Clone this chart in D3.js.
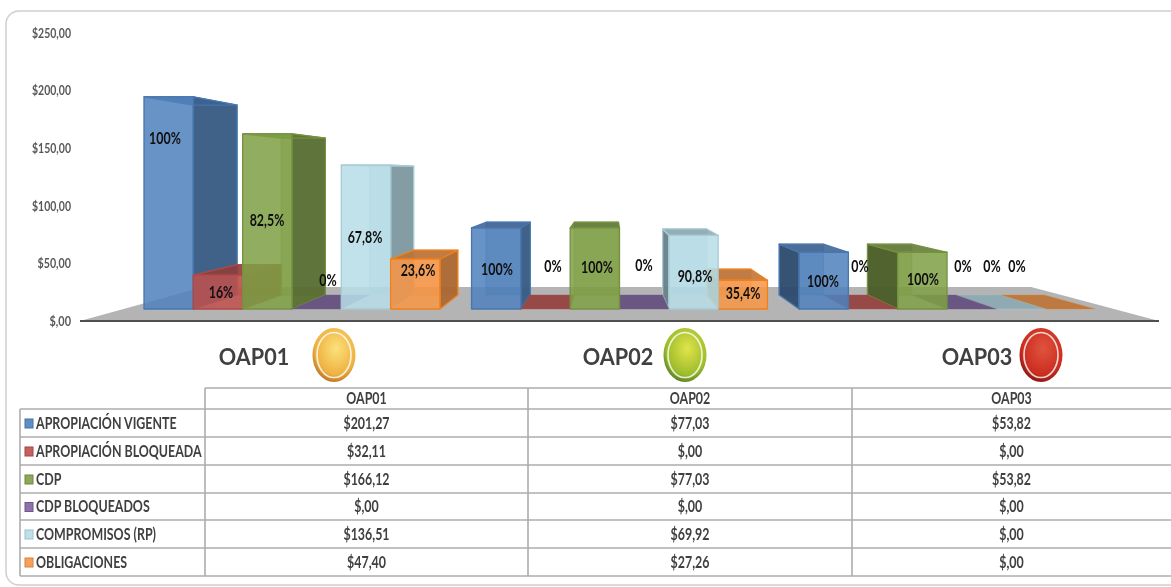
<!DOCTYPE html>
<html>
    <head>
        <meta charset="utf-8">
        <style>
            html, body { margin: 0; padding: 0; background: white; overflow: hidden; }
            text { font-family: Lato, "Open Sans", sans-serif; }
            .grid_line { stroke: #adadad; stroke-width: 1.6; fill: none; }
        </style>
    </head>
    <body>
        <div id="plateau"></div>
        <script src="https://cdn.jsdelivr.net/npm/d3@7"></script>
        <script>

//////////////////// data ////////////////////
const categories = ['OAP01', 'OAP02', 'OAP03'];
const seriesNames = ['APROPIACIÓN VIGENTE', 'APROPIACIÓN BLOQUEADA', 'CDP', 'CDP BLOQUEADOS', 'COMPROMISOS (RP)', 'OBLIGACIONES'];
const seriesColors = ['#4f81bd', '#c0504d', '#7f9f45', '#8064a2', '#b7dde8', '#f79646'];

const apropiacionVigente = [201.27, 77.03, 53.82];
const apropiacionBloqueada = [32.11, 0, 0];
const cdp = [166.12, 77.03, 53.82];
const cdpBloqueados = [0, 0, 0];
const compromisos = [136.51, 69.92, 0];
const obligaciones = [47.40, 27.26, 0];
const seriesValues = [apropiacionVigente, apropiacionBloqueada, cdp, cdpBloqueados, compromisos, obligaciones];

const pctLabels = [
    ['100%', '16%', '82,5%', '0%', '67,8%', '23,6%'],
    ['100%', '0%', '100%', '0%', '90,8%', '35,4%'],
    ['100%', '0%', '100%', '0%', '0%', '0%'],
];
const axisTicks = [0, 50, 100, 150, 200, 250];
const lightColors = [['#fbe27a', '#eeb040', '#a8601f'], ['#e2e44a', '#9cbc2c', '#3f6a22'], ['#e0543e', '#cb2c20', '#6e1210']];

//////////////////// layout ////////////////////
const W = 1171, H = 587;
const VP = {x: 610, y: 175};     // point de fuite
const BAR_DEPTH = 0.105;
const FLOOR_DEPTH = 0.233;
const FLOOR_Y = 321;
const BAR_BASE = 309;

// label positions, hand placed in the original too
const pctPos = [
    [[165, 138], [221, 292], [267, 220], [328, 280], [365, 237], [418, 270]],
    [[497, 269], [553, 266], [597, 267], [644, 265], [695, 276], [743, 293]],
    [[823, 281], [860, 266], [923, 279], [963, 266], [992, 266], [1017, 266]],
];
const catLabelX = [254, 618, 977];
const lightX = [334, 685, 1041];
const rowY = [409, 437, 465, 493, 520, 548, 576];
const colX = [205, 528, 852, 1171];

//////////////////// scales ////////////////////
const x0 = d3.scaleBand().domain(categories).range([144, 1095]).paddingInner(0.0965);
const x1 = d3.scaleBand().domain(seriesNames).range([0, x0.bandwidth()]);
const yAxis = d3.scaleLinear().domain([0, 250]).range([FLOOR_Y, 33]);
const yBar = d3.scaleLinear().domain([0, 250]).range([BAR_BASE, BAR_BASE - 263.5]);

const locale = d3.formatLocale({decimal: ',', thousands: '.', grouping: [3], currency: ['$', '']});
const fmtMoney = v => locale.format('$.2f')(v).replace('$0,', '$,');

function project(px, py, t) {
    return [px + t * (VP.x - px), py + t * (VP.y - py)];
}
const line = pts => 'M' + pts.map(p => p.join(',')).join('L') + 'Z';

//////////////////// svg ////////////////////
const svg = d3.select('#plateau').append('svg')
    .attr('width', W)
    .attr('height', H)
    .style('display', 'block');

const defs = svg.append('defs');
const soft = defs.append('filter').attr('id', 'soft');
soft.append('feGaussianBlur').attr('stdDeviation', 0.5);

lightColors.forEach((c, i) => {
    let g = defs.append('radialGradient').attr('id', 'light' + i).attr('cx', '0.55').attr('cy', '0.38').attr('r', '0.68');
    g.append('stop').attr('offset', '0').attr('stop-color', c[0]);
    g.append('stop').attr('offset', '0.72').attr('stop-color', c[1]);
    g.append('stop').attr('offset', '1').attr('stop-color', c[2]);
});

// cadre
svg.append('rect')
    .attr('x', 6).attr('y', 11)
    .attr('width', W + 30).attr('height', 574)
    .attr('rx', 13)
    .attr('fill', 'white')
    .attr('stroke', '#cfcfcf')
    .attr('stroke-width', 1.5);

const chart = svg.append('g').attr('filter', 'url(#soft)');

// sol
chart.append('path')
    .attr('fill', '#b4b4b4')
    .attr('d', line([[80, FLOOR_Y], [1159, FLOOR_Y], project(1159, FLOOR_Y, FLOOR_DEPTH), project(80, FLOOR_Y, FLOOR_DEPTH)]));
chart.append('line')
    .attr('x1', 80).attr('x2', 1159)
    .attr('y1', FLOOR_Y).attr('y2', FLOOR_Y)
    .attr('stroke', '#505050')
    .attr('stroke-width', 2);

// axe
const axisG = chart.append('g')
    .attr('transform', 'translate(71, 0)')
    .call(d3.axisLeft(yAxis).tickValues(axisTicks).tickSize(0).tickPadding(0).tickFormat(fmtMoney));
axisG.select('.domain').remove();
axisG.selectAll('text')
    .attr('fill', '#595959')
    .attr('font-size', 13.5)
    .attr('font-weight', 700)
    .attr('font-family', 'Lato')
    .attr('textLength', d => d >= 100 ? 39 : (d > 0 ? 33.5 : 21.5))
    .attr('lengthAdjust', 'spacingAndGlyphs');

// barres
function drawBar(g, name, color, value, catName) {
    let xa = x0(catName) + x1(name);
    let xb = xa + x1.bandwidth();
    let top = yBar(value);
    let fa = [xa, top], fb = [xb, top], fc = [xb, BAR_BASE], fd = [xa, BAR_BASE];
    let [ba, bb, bc, bd] = [fa, fb, fc, fd].map(p => project(p[0], p[1], BAR_DEPTH));
    let base = d3.color(color);
    let side = base.darker(1.05).formatHex();
    let leftSide = base.darker(1.5).formatHex();
    let topFill = base.darker(0.75).formatHex();
    let edge = name === 'OBLIGACIONES' ? '#f0801c' : base.darker(0.25).formatHex();
    let bar = g.append('g').attr('stroke', edge).attr('stroke-width', 1.3).attr('stroke-linejoin', 'round');

    // faces cachees
    if (value > 0) {
        bar.append('path').attr('d', line([ba, bb, bc, bd])).attr('fill', side).attr('fill-opacity', 0.35).attr('stroke-opacity', 0.5);
    }
    // cote visible selon le point de fuite
    if (value > 0 && xb < VP.x) bar.append('path').attr('d', line([fb, bb, bc, fc])).attr('fill', side).attr('fill-opacity', 0.92);
    if (value > 0 && xa > VP.x) bar.append('path').attr('d', line([fa, ba, bd, fd])).attr('fill', leftSide).attr('fill-opacity', 0.95);
    bar.append('path').attr('d', line([fa, fb, bb, ba])).attr('fill', topFill)
        .attr('fill-opacity', value > 0 ? 0.88 : 0.9)
        .attr('stroke-opacity', value > 0 ? 1 : 0.25);
    if (value > 0) {
        bar.append('path').attr('d', line([fa, fb, fc, fd])).attr('fill', color).attr('fill-opacity', 0.86);
    }
}

// les barres les plus loin du point de fuite sont dessinees d'abord
const bars = chart.append('g');
categories.forEach((cat, c) => {
    let order = d3.range(seriesNames.length).sort((a, b) => {
        let ca = x0(cat) + x1(seriesNames[a]) + x1.bandwidth() / 2;
        let cb = x0(cat) + x1(seriesNames[b]) + x1.bandwidth() / 2;
        return Math.abs(cb - VP.x) - Math.abs(ca - VP.x);
    });
    order.forEach(s => {
        drawBar(bars, seriesNames[s], seriesColors[s], seriesValues[s][c], cat);
    });
});

// pourcentages
categories.forEach((cat, c) => {
    pctLabels[c].forEach((txt, s) => {
        chart.append('text')
            .attr('transform', `translate(${pctPos[c][s][0]}, ${pctPos[c][s][1] + 6}) scale(0.71, 1)`)
            .attr('text-anchor', 'middle')
            .attr('font-size', 17.5)
            .attr('font-weight', 700)
            .attr('fill', '#111')
            .text(txt);
    });
});

// categories + feux
categories.forEach((cat, c) => {
    chart.append('text')
        .attr('transform', `translate(${catLabelX[c]}, 365) scale(0.92, 1)`)
        .attr('text-anchor', 'middle')
        .attr('font-size', 23.5)
        .attr('font-weight', 700)
        .attr('fill', '#404040')
        .text(cat);
    chart.append('ellipse')
        .attr('cx', lightX[c]).attr('cy', 355)
        .attr('rx', 21.5).attr('ry', 27)
        .attr('fill', `url(#light${c})`);
    chart.append('ellipse')
        .attr('cx', lightX[c]).attr('cy', 355)
        .attr('rx', 17).attr('ry', 22.5)
        .attr('fill', 'none')
        .attr('stroke', 'white')
        .attr('stroke-opacity', 0.8)
        .attr('stroke-width', 1.6);
});

//////////////////// table ////////////////////
const table = svg.append('g').attr('filter', 'url(#soft)');

// lignes
rowY.forEach(y => {
    table.append('line').classed('grid_line', true)
        .attr('x1', 20).attr('x2', W).attr('y1', y).attr('y2', y);
});
table.append('line').classed('grid_line', true)
    .attr('x1', colX[0]).attr('x2', W).attr('y1', 388).attr('y2', 388);
table.append('line').classed('grid_line', true)
    .attr('x1', 20).attr('x2', 20).attr('y1', rowY[0]).attr('y2', rowY[6]);
colX.slice(0, 3).forEach(x => {
    table.append('line').classed('grid_line', true)
        .attr('x1', x).attr('x2', x).attr('y1', 388).attr('y2', rowY[6]);
});

function cell(x, y, txt, anchor) {
    table.append('text')
        .attr('transform', `translate(${x}, ${y}) scale(0.74, 1)`)
        .attr('text-anchor', anchor)
        .attr('font-size', 16.8)
        .attr('font-weight', 700)
        .attr('fill', '#404040')
        .text(txt);
}

categories.forEach((cat, c) => {
    let cx = (colX[c] + colX[c + 1]) / 2;
    cell(cx, 403.5, cat, 'middle');
    seriesValues.forEach((vals, s) => {
        cell(cx, (rowY[s] + rowY[s + 1]) / 2 + 5.5, fmtMoney(vals[c]), 'middle');
    });
});

seriesNames.forEach((name, s) => {
    let mid = (rowY[s] + rowY[s + 1]) / 2;
    table.append('rect')
        .attr('x', 25).attr('y', mid - 4)
        .attr('width', 8).attr('height', 9)
        .attr('fill', seriesColors[s])
        .attr('fill-opacity', 0.9)
        .attr('stroke', d3.color(seriesColors[s]).darker(0.4).formatHex())
        .attr('stroke-width', 1);
    cell(36, mid + 5.5, name, 'start');
});

        </script>
    </body>
</html>
